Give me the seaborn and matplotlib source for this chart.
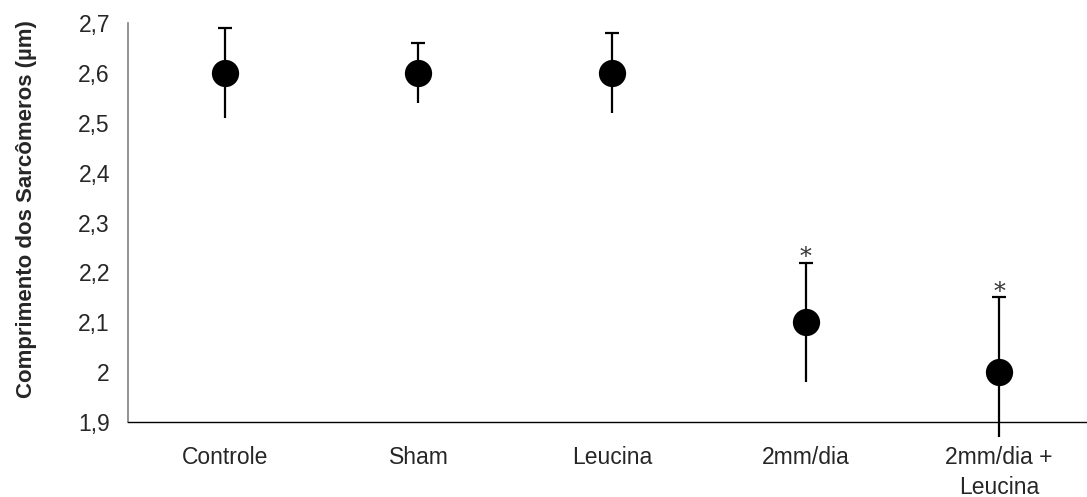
import numpy as np
import pandas as pd
import matplotlib
matplotlib.use("Agg")
import matplotlib.pyplot as plt
import seaborn as sns

# values
groups = ["Controle", "Sham", "Leucina", "2mm/dia", "2mm/dia +\nLeucina"]
means = [2.60, 2.60, 2.60, 2.10, 2.00]
upper = [2.69, 2.66, 2.68, 2.22, 2.15]
lower = [2.51, 2.54, 2.52, 1.98, 1.87]
significant = [False, False, False, True, True]
yticks = [1.9, 2.0, 2.1, 2.2, 2.3, 2.4, 2.5, 2.6, 2.7]

sns.set_style("white")
plt.rcParams["font.family"] = ["Liberation Sans", "DejaVu Sans"]

df = pd.DataFrame({"grupo": groups, "media": means})
m = np.array(means)
up = np.array(upper) - m
lo = m - np.array(lower)
pos = np.arange(len(groups))

fig = plt.figure(figsize=(10.87, 4.97), dpi=100)
ax = fig.add_axes([0.1178, 0.151, 0.8905, 0.802])

# lower whiskers without caps, upper whiskers with caps
ax.errorbar(pos, m, yerr=[lo, np.zeros_like(lo)], fmt="none", ecolor="black",
            elinewidth=1.6, capsize=0, clip_on=False, zorder=2)
ax.errorbar(pos, m, yerr=[np.zeros_like(up), up], fmt="none", ecolor="black",
            elinewidth=1.6, capsize=5, capthick=1.6, clip_on=False, zorder=2)
sns.scatterplot(data=df, x="grupo", y="media", color="black", edgecolor="black",
                s=330, ax=ax, zorder=3, legend=False, clip_on=False)

for i, sig in enumerate(significant):
    if sig:
        ax.annotate("*", (pos[i], upper[i]), xytext=(0, -5), textcoords="offset points",
                    ha="center", va="bottom", fontsize=17, family="DejaVu Serif",
                    color="#333333")

ax.set_xlim(-0.5, 4.455)
ax.set_ylim(1.9, 2.7)
ax.set_yticks(yticks)
ax.set_yticklabels([f"{v:g}".replace(".", ",") for v in yticks], fontsize=16.5)
ax.set_xticks(pos)
ax.set_xticklabels(groups, fontsize=16.5, linespacing=1.4)
ax.set_xticks(np.arange(-0.5, 4.6, 1.0), minor=True)
ax.tick_params(axis="x", which="major", length=0, pad=17)
ax.tick_params(axis="x", which="minor", length=7, width=1, color="black", direction="out")
ax.tick_params(axis="y", length=5, width=1, color="#555555", direction="out", pad=8)
ax.set_xlabel("")
ax.set_ylabel("Comprimento dos Sarcômeros (µm)", fontsize=16, fontweight="bold", labelpad=30)
ax.yaxis.label.set_y(0.535)

for side in ["top", "right"]:
    ax.spines[side].set_visible(False)
ax.spines["left"].set_color("#808080")
ax.spines["left"].set_linewidth(1.2)
ax.spines["bottom"].set_color("black")
ax.spines["bottom"].set_linewidth(1.0)

fig.savefig("out.png", dpi=100)
